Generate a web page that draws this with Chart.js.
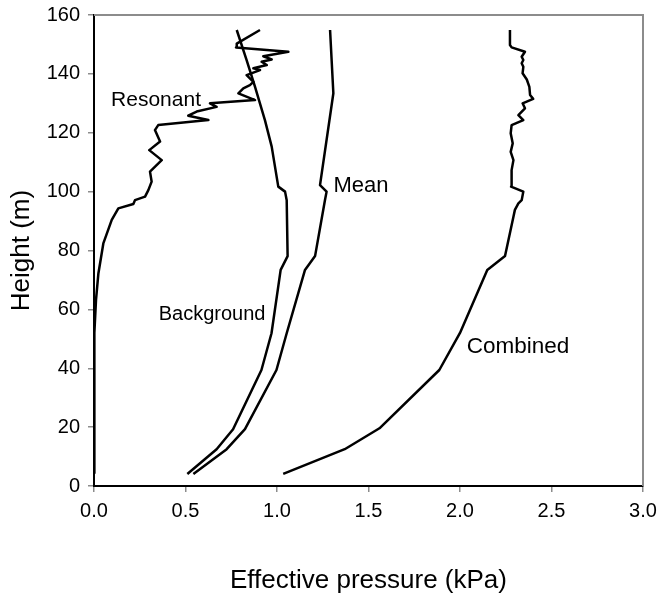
<!DOCTYPE html>
<html>
<head>
<meta charset="utf-8">
<script src="https://cdn.jsdelivr.net/npm/chart.js@4/dist/chart.umd.min.js"></script>
<style>
  body { margin: 0; background: #fff; }
  #wrap { width: 659px; height: 596px; }
</style>
</head>
<body>
<div id="wrap"><canvas id="pressureChart" width="659" height="596"></canvas></div>
<script>
// heights (m) and effective pressure (kPa)
const backgroundHeight = [4.1, 12.5, 19.3, 39.4, 51.9, 73.4, 78.1, 97.1, 100, 101.7, 115.3, 124.3, 135.6, 144.7, 154.9];
const backgroundPressure = [0.51, 0.67, 0.76, 0.915, 0.97, 1.02, 1.058, 1.053, 1.044, 1.007, 0.971, 0.934, 0.88, 0.834, 0.78];

const meanHeight = [4.1, 12.5, 19.3, 39.4, 51.9, 73.4, 78.1, 97.1, 100, 102.2, 133.4, 154.9];
const meanPressure = [0.543, 0.725, 0.825, 0.997, 1.053, 1.153, 1.208, 1.262, 1.271, 1.235, 1.308, 1.29];

const combinedHeight = [4.1, 12.5, 19.6, 39.4, 52, 73.4, 78.1, 91.5, 93.8, 96, 97.1, 100, 101.7, 107.3, 110.7, 113.5, 116.4, 119.8, 122.6, 124.3, 126, 128.3, 130, 131.5, 132.8, 135.6, 138.1, 140.2, 142.4, 143.6, 144.7, 145.8, 147.5, 149, 149.8, 154.9];
const combinedPressure = [1.034, 1.37, 1.56, 1.887, 2.0, 2.149, 2.246, 2.292, 2.30, 2.319, 2.337, 2.346, 2.279, 2.282, 2.292, 2.277, 2.288, 2.277, 2.282, 2.346, 2.319, 2.355, 2.342, 2.40, 2.383, 2.379, 2.365, 2.342, 2.346, 2.337, 2.346, 2.337, 2.355, 2.282, 2.273, 2.273];

const resonantHeight = [4.4, 40.5, 52, 63.2, 72.2, 82.4, 90.4, 94.3, 95.8, 97.1, 98.3, 100.5, 103.4, 106.8, 110.7, 114.1, 117, 120.9, 122.6, 124.3, 125.8, 127.2, 128.8, 130, 131.1, 133.4, 135.1, 136.2, 137.3, 139.6, 141.3, 141.9, 143, 144.1, 144.9, 146, 147.5, 149, 150.3, 154.9];
const resonantPressure = [0, 0, 0.004, 0.011, 0.024, 0.051, 0.097, 0.133, 0.215, 0.224, 0.279, 0.297, 0.315, 0.306, 0.370, 0.302, 0.361, 0.333, 0.351, 0.625, 0.515, 0.561, 0.670, 0.634, 0.880, 0.789, 0.816, 0.852, 0.871, 0.834, 0.907, 0.871, 0.944, 0.916, 0.971, 0.925, 1.062, 0.776, 0.780, 0.907];

const seriesNames = ['Resonant', 'Background', 'Mean', 'Combined'];
const labelX = [0.339, 0.645, 1.459, 2.317];
const labelY = [131.1, 58.4, 101.9, 47.2];
const labelSize = [21, 20, 22, 22.5];

const xTicks = [0, 0.5, 1.0, 1.5, 2.0, 2.5, 3.0];
const yTicks = [0, 20, 40, 60, 80, 100, 120, 140, 160];

const FONT = '"Liberation Sans", Arial, sans-serif';

function toPoints(xs, ys) {
    return xs.map((x, i) => ({ x: x, y: ys[i] }));
}

function lineSet(name, xs, ys) {
    return {
        label: name,
        data: toPoints(xs, ys),
        showLine: true,
        borderColor: '#000',
        borderWidth: 2.5,
        pointRadius: 0,
        tension: 0,
        borderJoinStyle: 'round',
        fill: false
    };
}

// gray top/right frame plus the curve names
const framePlugin = {
    id: 'frame',
    beforeDatasetsDraw(chart) {
        const a = chart.chartArea, ctx = chart.ctx;
        ctx.save();
        ctx.strokeStyle = '#8c8c8c';
        ctx.lineWidth = 2;
        ctx.beginPath();
        ctx.moveTo(a.left, a.top);
        ctx.lineTo(a.right, a.top);
        ctx.lineTo(a.right, a.bottom);
        ctx.stroke();
        ctx.restore();
    },
    afterDatasetsDraw(chart) {
        const ctx = chart.ctx, xs = chart.scales.x, ys = chart.scales.y;
        ctx.save();
        ctx.fillStyle = '#000';
        ctx.textAlign = 'center';
        ctx.textBaseline = 'middle';
        seriesNames.forEach((name, i) => {
            ctx.font = labelSize[i] + 'px ' + FONT;
            ctx.fillText(name, xs.getPixelForValue(labelX[i]), ys.getPixelForValue(labelY[i]));
        });
        ctx.restore();
    }
};

new Chart(document.getElementById('pressureChart'), {
    type: 'scatter',
    data: {
        datasets: [
            lineSet('Resonant', resonantPressure, resonantHeight),
            lineSet('Background', backgroundPressure, backgroundHeight),
            lineSet('Mean', meanPressure, meanHeight),
            lineSet('Combined', combinedPressure, combinedHeight)
        ]
    },
    options: {
        responsive: false,
        animation: false,
        layout: { padding: { left: 0, top: 15, right: 16, bottom: 0 } },
        plugins: { legend: { display: false }, tooltip: { enabled: false } },
        scales: {
            x: {
                type: 'linear',
                min: 0, max: 3,
                afterFit: s => { s.height = 110; s.paddingLeft = 0; s.paddingRight = 0; },
                afterBuildTicks: s => { s.ticks = xTicks.map(v => ({ value: v })); },
                ticks: {
                    color: '#000',
                    font: { family: FONT, size: 20 },
                    padding: 7,
                    callback: v => v.toFixed(1)
                },
                grid: { drawOnChartArea: false, drawTicks: true, tickLength: 6, color: '#8c8c8c', lineWidth: 1.5 },
                border: { color: '#000', width: 2 },
                title: {
                    display: true,
                    text: 'Effective pressure (kPa)',
                    color: '#000',
                    font: { family: FONT, size: 26 },
                    padding: { top: 0, bottom: 0 }
                }
            },
            y: {
                type: 'linear',
                min: 0, max: 160,
                afterFit: s => { s.width = 94; s.paddingTop = 0; s.paddingBottom = 0; },
                afterBuildTicks: s => { s.ticks = yTicks.map(v => ({ value: v })); },
                ticks: {
                    color: '#000',
                    font: { family: FONT, size: 20 },
                    padding: 8
                },
                grid: { drawOnChartArea: false, drawTicks: true, tickLength: 6, color: '#8c8c8c', lineWidth: 1.5 },
                border: { color: '#000', width: 2 },
                title: {
                    display: true,
                    text: 'Height (m)',
                    color: '#000',
                    font: { family: FONT, size: 26 },
                    padding: { top: 6, bottom: 0 }
                }
            }
        }
    },
    plugins: [framePlugin]
});
</script>
</body>
</html>
